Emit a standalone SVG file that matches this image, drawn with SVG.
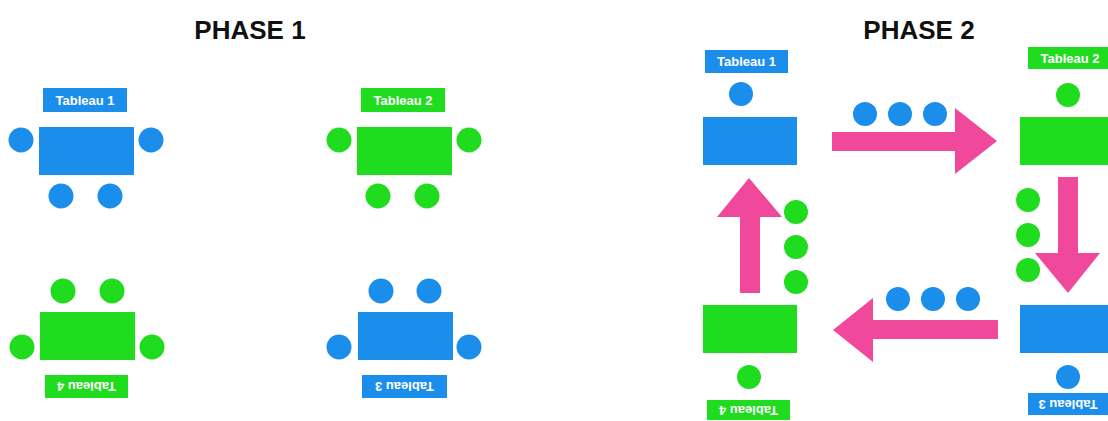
<svg xmlns="http://www.w3.org/2000/svg" width="1108" height="421" viewBox="0 0 1108 421">
<style>
.b{fill:#1b8eec}
.g{fill:#1fdc1f}
.p{fill:#f0489b}
.t{font-family:"Liberation Sans",Arial,sans-serif;font-weight:bold;fill:#fff;font-size:13px;text-anchor:middle}
.h{font-family:"Liberation Sans",Arial,sans-serif;font-weight:bold;fill:#111;font-size:26px;text-anchor:middle}
</style>
<rect width="1108" height="421" fill="#fff"/>
<text class="h" x="250" y="39">PHASE 1</text>
<text class="h" x="919" y="39">PHASE 2</text>

<g id="p1-table1">
<rect class="b" x="43" y="88" width="84" height="24"/>
<text class="t" x="85" y="105">Tableau 1</text>
<rect class="b" x="39" y="127" width="95" height="48"/>
<circle class="b" cx="21" cy="140" r="12.5"/>
<circle class="b" cx="151" cy="140" r="12.5"/>
<circle class="b" cx="61" cy="196" r="12.5"/>
<circle class="b" cx="110" cy="196" r="12.5"/>
</g>
<g id="p1-table2">
<rect class="g" x="361" y="88" width="84" height="24"/>
<text class="t" x="403" y="105">Tableau 2</text>
<rect class="g" x="357" y="127" width="95" height="48"/>
<circle class="g" cx="339" cy="140" r="12.5"/>
<circle class="g" cx="469" cy="140" r="12.5"/>
<circle class="g" cx="378" cy="196" r="12.5"/>
<circle class="g" cx="427" cy="196" r="12.5"/>
</g>
<g id="p1-table4">
<rect class="g" x="45" y="375" width="83" height="23"/>
<text class="t" transform="translate(86.5,386.5) rotate(180)" y="4.5">Tableau 4</text>
<rect class="g" x="40" y="312" width="95" height="48"/>
<circle class="g" cx="22" cy="347" r="12.5"/>
<circle class="g" cx="152" cy="347" r="12.5"/>
<circle class="g" cx="63" cy="291" r="12.5"/>
<circle class="g" cx="112" cy="291" r="12.5"/>
</g>
<g id="p1-table3">
<rect class="b" x="362" y="375" width="85" height="23"/>
<text class="t" transform="translate(404.5,386.5) rotate(180)" y="4.5">Tableau 3</text>
<rect class="b" x="358" y="312" width="95" height="48"/>
<circle class="b" cx="339" cy="347" r="12.5"/>
<circle class="b" cx="469" cy="347" r="12.5"/>
<circle class="b" cx="381" cy="291" r="12.5"/>
<circle class="b" cx="429" cy="291" r="12.5"/>
</g>

<g id="p2-table1">
<rect class="b" x="705" y="50" width="83" height="23"/>
<text class="t" x="746.5" y="66">Tableau 1</text>
<circle class="b" cx="741" cy="94" r="12"/>
<rect class="b" x="703" y="117" width="94" height="48"/>
</g>
<g id="p2-table2">
<rect class="g" x="1028" y="47" width="84" height="22"/>
<text class="t" x="1070" y="63">Tableau 2</text>
<circle class="g" cx="1068" cy="95" r="12"/>
<rect class="g" x="1020" y="117" width="94" height="48"/>
</g>
<g id="p2-table3">
<rect class="b" x="1028" y="393" width="80" height="22"/>
<text class="t" transform="translate(1068,404) rotate(180)" y="4.5">Tableau 3</text>
<circle class="b" cx="1068" cy="377" r="12"/>
<rect class="b" x="1020" y="305" width="94" height="48"/>
</g>
<g id="p2-table4">
<rect class="g" x="707" y="400" width="83" height="20"/>
<text class="t" transform="translate(748.5,410) rotate(180)" y="4.5">Tableau 4</text>
<circle class="g" cx="749" cy="377" r="12"/>
<rect class="g" x="703" y="305" width="94" height="48"/>
</g>

<g id="moving-guests">
<circle class="b" cx="865" cy="114" r="12"/>
<circle class="b" cx="900" cy="114" r="12"/>
<circle class="b" cx="935" cy="114" r="12"/>
<circle class="g" cx="1028" cy="200" r="12"/>
<circle class="g" cx="1028" cy="235" r="12"/>
<circle class="g" cx="1028" cy="270" r="12"/>
<circle class="b" cx="898" cy="299" r="12"/>
<circle class="b" cx="933" cy="299" r="12"/>
<circle class="b" cx="968" cy="299" r="12"/>
<circle class="g" cx="796" cy="212" r="12"/>
<circle class="g" cx="796" cy="247" r="12"/>
<circle class="g" cx="796" cy="282" r="12"/>
</g>

<g id="connectors">
<polygon class="p" points="832,132 955,132 955,108 997,141 955,174 955,151 832,151"/>
<polygon class="p" points="1058,177 1078,177 1078,253 1100,253 1068,293 1035,253 1058,253"/>
<polygon class="p" points="998,320 998,339 873,339 873,362 833,330 873,298 873,320"/>
<polygon class="p" points="740,293 760,293 760,217 782,217 749,178 717,217 740,217"/>
</g>
</svg>
